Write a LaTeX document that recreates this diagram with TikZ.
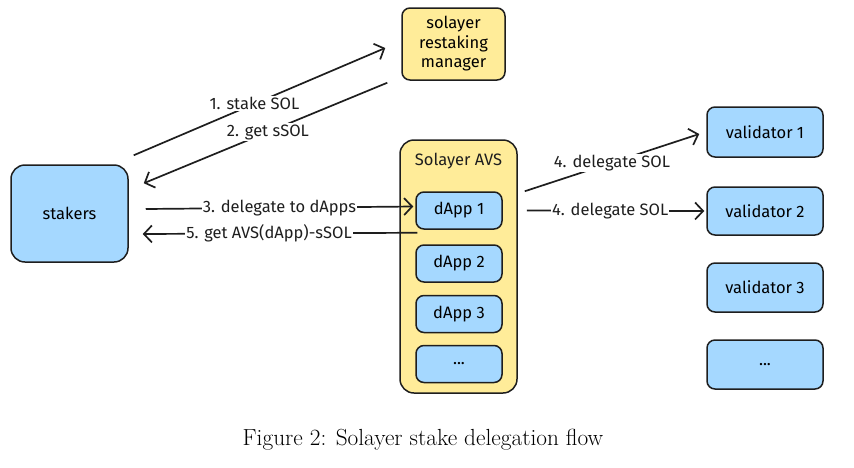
\documentclass[tikz,border=0pt]{standalone}
\usepackage{fontspec}
\newfontfamily\hand{Fira Sans}
\usetikzlibrary{arrows.meta}
\definecolor{exyellow}{HTML}{FFEC99}
\definecolor{exblue}{HTML}{A5D8FF}
\definecolor{ink}{HTML}{1E1E1E}
\begin{document}
\begin{tikzpicture}[x=1pt,y=-1pt,
  box/.style={draw=ink, line width=1.5pt, rounded corners=8pt, inner sep=0pt, align=center,
    font=\hand\fontsize{16.5}{19.5}\selectfont},
  yellowbox/.style={box, fill=exyellow},
  bluebox/.style={box, fill=exblue},
  arr/.style={draw=ink, line width=1.7pt, -{Straight Barb[length=8pt,width=17pt,line width=1.7pt]}},
  lbl/.style={fill=white, inner sep=1pt, font=\hand\fontsize{16.5}{19.5}\selectfont, text=ink}]
\useasboundingbox (0,0) rectangle (854,467);
% top manager
\node[yellowbox, minimum width=103pt, minimum height=72pt] (mgr) at (453.5,44) {solayer\\restaking\\manager};
% stakers
\node[bluebox, rounded corners=14pt, minimum width=117pt, minimum height=97pt] (stakers) at (69.5,213.5) {stakers};
% AVS container
\node[yellowbox, rounded corners=14pt, minimum width=117pt, minimum height=253pt] (avs) at (458.5,266.5) {};
\node[font=\hand\fontsize{16.5}{19.5}\selectfont, text=ink] (avstitle) at (458.5,161) {Solayer AVS};
\node[bluebox, minimum width=86pt, minimum height=37pt] (d1) at (459,210.5) {dApp 1};
\node[bluebox, minimum width=86pt, minimum height=37pt] (d2) at (459,263.5) {dApp 2};
\node[bluebox, minimum width=86pt, minimum height=37pt] (d3) at (459,314) {dApp 3};
\node[bluebox, minimum width=86pt, minimum height=37pt] (d4) at (459,364) {...};
% validators
\node[bluebox, minimum width=116pt, minimum height=50pt] (v1) at (765,132) {validator 1};
\node[bluebox, minimum width=116pt, minimum height=48pt] (v2) at (765,211) {validator 2};
\node[bluebox, minimum width=116pt, minimum height=49pt] (v3) at (765,287.5) {validator 3};
\node[bluebox, minimum width=116pt, minimum height=49pt] (v4) at (765,364.5) {...};
% arrows
\draw[arr] ([xshift=5pt,yshift=9pt]stakers.north east) -- node[lbl, pos=0.48] {1. stake SOL} ([xshift=-16pt,yshift=-4pt]mgr.west);
\draw[arr] ([xshift=-14pt,yshift=-2pt]mgr.south west) -- node[lbl, pos=0.49] {2. get sSOL} ([xshift=15pt,yshift=-19pt]stakers.north east);
\draw[arr] ([xshift=17pt,yshift=4.5pt]stakers.east) -- node[lbl, pos=0.5] {3. delegate to dApps} ([xshift=-2pt,yshift=4pt]d1.west);
\draw[arr] ([xshift=2pt,yshift=-3pt]d1.south west) -- node[lbl, pos=0.54] {5. get AVS(dApp)-sSOL} ([xshift=14pt,yshift=-20.5pt]stakers.east);
\draw[arr] ([xshift=22pt]d1.north east) -- node[lbl, pos=0.5] {4. delegate SOL} ([xshift=-7pt,yshift=-2pt]v1.west);
\draw[arr] ([xshift=24pt]d1.east) -- node[lbl, pos=0.47] {4. delegate SOL} ([xshift=-2pt]v2.west);
% caption
\node[font=\fontsize{23.3}{28}\selectfont] (cap) at (423,440) {Figure 2: Solayer stake delegation flow};
\end{tikzpicture}
\end{document}
